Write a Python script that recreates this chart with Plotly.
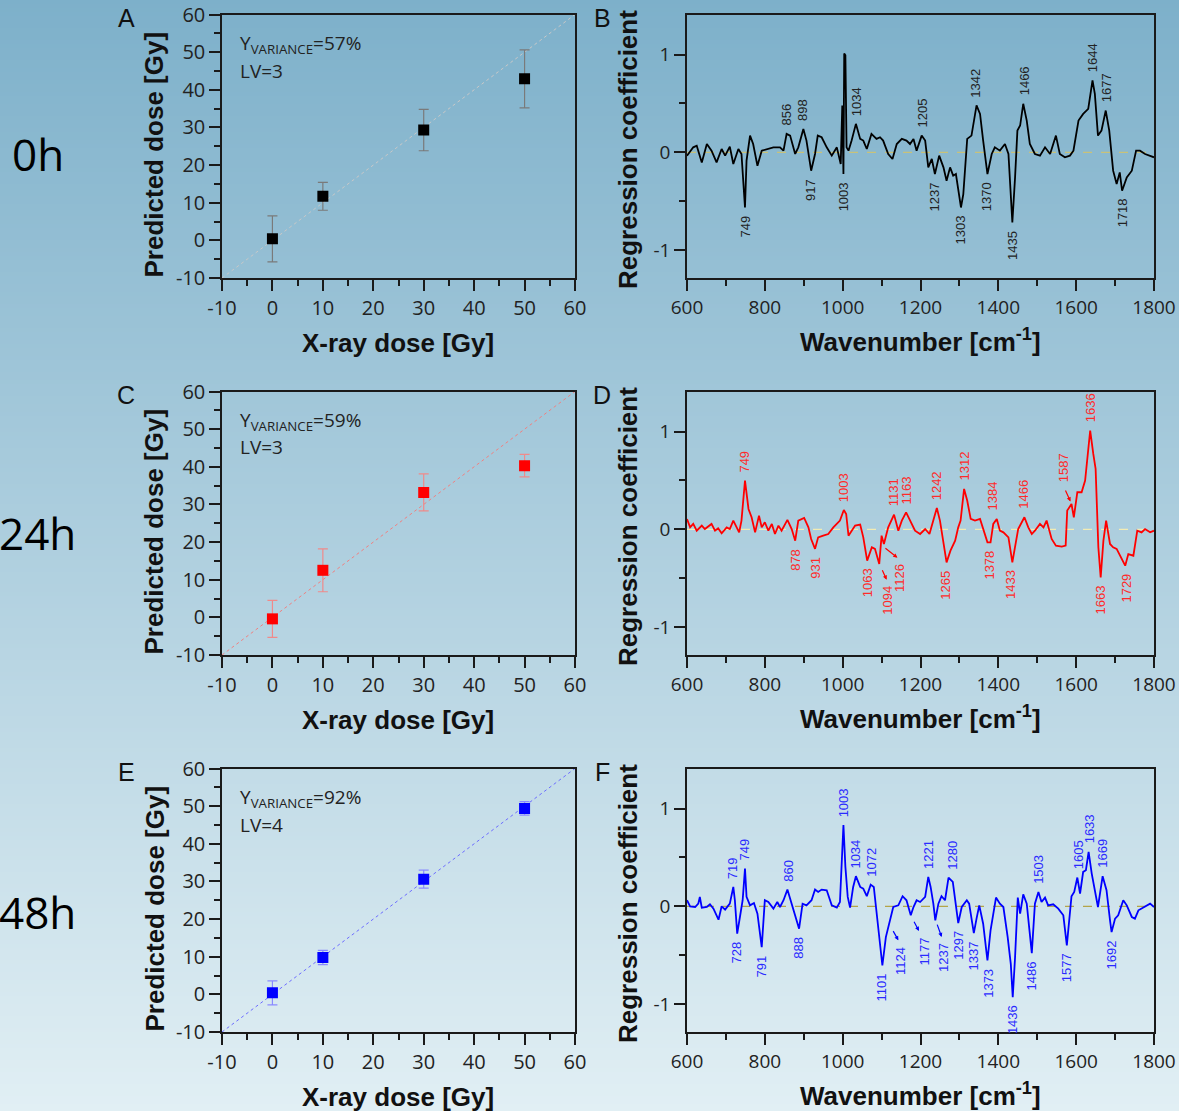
import numpy as np
import plotly.graph_objects as go

# ---------------- data ----------------
dose_x = [0, 10, 30, 50]

pred_0h = [0.4, 11.7, 29.3, 42.9]
err_0h = [6.1, 3.7, 5.5, 7.7]
pred_24h = [-0.4, 12.5, 33.2, 40.3]
err_24h = [4.9, 5.7, 4.9, 3.0]
pred_48h = [0.4, 9.8, 30.6, 49.4]
err_48h = [3.2, 1.9, 2.4, 1.8]

ideal_x = [-10, 60]
ideal_y = [-10, 60]

variance_0h, lv_0h = "57%", 3
variance_24h, lv_24h = "59%", 3
variance_48h, lv_48h = "92%", 4

wn_0h = [600, 616, 625, 638, 651, 663, 676, 689, 698, 710,
         719, 732, 740, 749, 753, 762, 770, 781, 792, 805,
         822, 839, 848, 856, 865, 878, 886, 899, 907, 919,
         929, 936, 946, 959, 972, 985, 991, 995, 999, 1002,
         1004, 1007, 1010, 1015, 1023, 1034, 1045, 1053, 1062, 1074,
         1087, 1096, 1104, 1117, 1128, 1139, 1152, 1164, 1173, 1182,
         1190, 1203, 1212, 1220, 1229, 1237, 1248, 1259, 1267, 1276,
         1284, 1291, 1304, 1310, 1320, 1331, 1344, 1353, 1361, 1372,
         1383, 1391, 1404, 1417, 1426, 1436, 1443, 1449, 1456, 1464,
         1473, 1481, 1494, 1507, 1520, 1533, 1548, 1558, 1571, 1584,
         1593, 1606, 1618, 1631, 1642, 1648, 1656, 1665, 1676, 1685,
         1695, 1704, 1712, 1718, 1730, 1743, 1754, 1764, 1777, 1790,
         1800]
coef_0h = [-0.034, 0.051, 0.068, -0.103, 0.085, 0.017, -0.103, 0.034, -0.034, 0.058,
           -0.12, 0.034, -0.017, -0.564, -0.085, 0.171, 0.085, -0.137, 0.017, 0.034,
           0.051, 0.051, 0.017, 0.188, 0.171, -0.017, 0.051, 0.239, 0.12, -0.188,
           -0.017, 0.171, 0.154, 0.051, -0.034, 0.051, -0.051, -0.12, 0.479, -0.222,
           1.009, 0.991, 0.051, 0.017, 0.12, 0.291, 0.137, 0.12, 0.034, 0.188,
           0.137, 0.154, 0.12, -0.017, -0.068, 0.085, 0.137, 0.12, 0.085, 0.137,
           0.017, 0.171, 0.12, -0.154, -0.068, -0.222, -0.034, -0.154, -0.291, -0.154,
           -0.239, -0.222, -0.564, -0.427, 0.137, 0.171, 0.479, 0.393, 0.12, -0.222,
           -0.017, 0.051, 0.017, 0.085, -0.017, -0.718, -0.256, 0.222, 0.274, 0.496,
           0.325, 0.085, -0.017, -0.034, 0.051, -0.017, 0.171, -0.017, -0.051, -0.034,
           0.017, 0.325, 0.393, 0.444, 0.735, 0.598, 0.171, 0.222, 0.427, 0.222,
           -0.188, -0.325, -0.205, -0.393, -0.256, -0.188, 0.017, 0.017, -0.017, -0.034,
           -0.051]

wn_24h = [600, 608, 616, 625, 638, 646, 663, 672, 680, 689,
          702, 710, 719, 728, 734, 740, 749, 758, 766, 775,
          785, 792, 800, 809, 818, 826, 835, 843, 858, 869,
          878, 886, 901, 912, 919, 929, 937, 950, 963, 976,
          985, 993, 1003, 1009, 1015, 1023, 1032, 1045, 1053, 1063,
          1075, 1083, 1094, 1100, 1106, 1117, 1132, 1143, 1152, 1163,
          1173, 1186, 1199, 1212, 1223, 1233, 1242, 1250, 1259, 1267,
          1277, 1289, 1297, 1303, 1312, 1320, 1329, 1340, 1353, 1361,
          1372, 1380, 1387, 1396, 1404, 1413, 1426, 1436, 1443, 1451,
          1467, 1477, 1486, 1494, 1507, 1516, 1524, 1537, 1548, 1563,
          1573, 1577, 1588, 1594, 1603, 1614, 1623, 1636, 1644, 1650,
          1657, 1663, 1670, 1677, 1687, 1695, 1704, 1713, 1726, 1734,
          1747, 1757, 1768, 1777, 1790, 1800]
coef_24h = [0.106, 0.02, 0.055, -0.014, 0.038, 0.003, 0.055, -0.014, 0.01, -0.041,
            0.02, 0.003, 0.089, 0.02, -0.031, 0.089, 0.498, 0.208, 0.123, -0.031,
            0.14, 0.02, 0.072, -0.014, 0.055, -0.048, 0.038, -0.014, 0.096, 0.003,
            -0.116, 0.089, 0.116, 0.02, -0.099, -0.2, -0.082, -0.065, -0.048, 0.02,
            0.061, 0.089, 0.198, 0.157, -0.065, -0.014, 0.038, 0.048, -0.082, -0.32,
            -0.184, -0.2, -0.355, -0.065, -0.15, 0.02, 0.15, -0.014, 0.089, 0.174,
            0.089, -0.014, -0.048, 0.003, -0.048, 0.089, 0.218, 0.089, -0.15, -0.338,
            -0.218, -0.116, 0.02, 0.089, 0.413, 0.294, 0.106, 0.089, 0.106, 0.003,
            -0.133, -0.133, 0.055, 0.106, -0.014, -0.031, -0.082, -0.338, -0.184, 0.003,
            0.123, 0.02, -0.048, -0.014, 0.055, 0.02, 0.089, -0.099, -0.167, -0.177,
            -0.167, 0.191, 0.259, 0.123, 0.379, 0.379, 0.498, 1.01, 0.771, 0.618,
            -0.184, -0.491, -0.116, 0.089, -0.15, -0.184, -0.2, -0.27, -0.372, -0.253,
            -0.27, -0.014, -0.031, 0.003, -0.031, -0.014]

wn_48h = [600, 608, 621, 629, 633, 638, 651, 659, 668, 681,
          689, 698, 710, 719, 723, 729, 736, 743, 749, 753,
          762, 772, 781, 792, 800, 809, 822, 832, 839, 848,
          858, 869, 878, 888, 897, 907, 920, 929, 937, 946,
          959, 972, 985, 993, 1002, 1007, 1013, 1019, 1027, 1034,
          1045, 1053, 1062, 1072, 1080, 1087, 1096, 1102, 1111, 1120,
          1130, 1143, 1154, 1164, 1175, 1182, 1190, 1199, 1212, 1220,
          1226, 1233, 1238, 1246, 1254, 1263, 1272, 1283, 1289, 1297,
          1306, 1319, 1325, 1337, 1344, 1351, 1361, 1372, 1380, 1394,
          1404, 1413, 1424, 1432, 1437, 1443, 1450, 1456, 1464, 1473,
          1480, 1486, 1494, 1503, 1511, 1520, 1528, 1541, 1554, 1567,
          1576, 1582, 1588, 1595, 1603, 1610, 1618, 1625, 1632, 1640,
          1648, 1656, 1668, 1678, 1687, 1691, 1700, 1708, 1721, 1730,
          1743, 1751, 1760, 1773, 1781, 1790, 1800]
coef_48h = [0.062, 0.0, -0.007, 0.027, 0.096, -0.014, -0.007, 0.021, -0.024, -0.137,
            0.0, -0.034, 0.027, 0.198, 0.062, -0.28, -0.109, 0.062, 0.386, 0.096,
            0.01, 0.034, -0.075, -0.417, 0.062, 0.044, -0.024, 0.044, -0.007, 0.062,
            0.171, 0.027, -0.092, -0.229, 0.027, 0.01, 0.062, 0.171, 0.147, 0.171,
            0.164, 0.01, -0.014, 0.044, 0.831, 0.403, 0.096, -0.014, 0.198, 0.308,
            0.198, 0.181, 0.103, 0.222, 0.198, -0.041, -0.383, -0.605, -0.315, -0.161,
            -0.007, 0.01, 0.103, 0.062, -0.092, -0.007, 0.062, 0.044, 0.096, 0.301,
            0.198, 0.027, -0.144, 0.027, 0.103, 0.062, 0.294, 0.25, 0.062, -0.171,
            -0.007, 0.062, 0.027, -0.274, -0.126, 0.01, -0.178, -0.554, -0.246, 0.089,
            0.027, -0.007, -0.315, -0.588, -0.93, -0.52, 0.089, -0.075, 0.123, 0.027,
            -0.246, -0.479, 0.027, 0.147, 0.044, 0.089, 0.01, 0.021, -0.024, -0.092,
            -0.4, -0.109, 0.103, 0.147, 0.294, 0.131, 0.352, 0.369, 0.557, 0.335,
            0.164, -0.007, 0.308, 0.164, -0.144, -0.263, -0.126, -0.092, 0.062, 0.01,
            -0.109, -0.126, -0.041, -0.014, 0.01, 0.027, -0.007]

peaks_up_0h = [856, 898, 1034, 1205, 1342, 1466, 1644, 1677]
peaks_down_0h = [749, 917, 1003, 1237, 1303, 1370, 1435, 1718]
peaks_up_24h = [749, 1003, 1131, 1163, 1242, 1312, 1384, 1466, 1636]
peaks_down_24h = [878, 931, 1063, 1265, 1378, 1433, 1663, 1729]
peaks_up_48h = [719, 749, 860, 1003, 1034, 1072, 1221, 1280, 1503, 1605, 1633, 1669]
peaks_down_48h = [728, 791, 888, 1101, 1297, 1337, 1373, 1436, 1486, 1577, 1692]
# labels drawn with arrows: (label, wavenumber on the curve, side)
arrow_peaks_24h = [(1094, 1094, "down"), (1126, 1106, "down"), (1587, 1588, "up")]
arrow_peaks_48h = [(1124, 1120, "down"), (1177, 1175, "down"), (1237, 1238, "down")]

dose_ticks = [-10, 0, 10, 20, 30, 40, 50, 60]
dose_minor = [-5, 5, 15, 25, 35, 45, 55]
wn_ticks = [600, 800, 1000, 1200, 1400, 1600, 1800]
wn_minor = [700, 900, 1100, 1300, 1500, 1700]
coef_ticks = [-1, 0, 1]
coef_minor = [-0.5, 0.5]
row_labels = ["0h", "24h", "48h"]
panel_letters = [("A", "B"), ("C", "D"), ("E", "F")]

# ---------------- layout helpers ----------------
W, H = 1179, 1111
ROW_TOP = [14.5, 391.5, 768.5]
ROW_H = 263.5
LEFT_DOM = [222 / W, 575 / W]
RIGHT_DOM = [687 / W, 1154 / W]
DARK = "#1a1a1a"
TICKFONT = "Open Sans, Liberation Sans, Arial"
BOLDFONT = "Liberation Sans, Arial"


def px(x):
    return x / W


def py(y):
    return 1 - y / H


fig = go.Figure()

# background gradient
top_c = np.array([125, 176, 202])
bot_c = np.array([225, 239, 244])
step = 4
for y0 in range(0, H, step):
    t = (y0 + step / 2) / H
    c = (top_c * (1 - t) + bot_c * t).round().astype(int)
    fig.add_shape(type="rect", xref="paper", yref="paper", x0=0, x1=1,
                  y0=max(py(y0 + step + 1), 0), y1=py(y0), layer="below",
                  line=dict(width=0), fillcolor=f"rgb({c[0]},{c[1]},{c[2]})")

axis_common = dict(showline=True, linecolor=DARK, linewidth=1.5, mirror=True,
                   ticks="outside", ticklen=11, tickwidth=1.5, tickcolor=DARK,
                   showgrid=False, zeroline=False, automargin=False,
                   tickfont=dict(family=TICKFONT, size=20, color="#222"))

dose_sets = [(pred_0h, err_0h, "#000000", "#7a7a7a", "#c8c8c8", variance_0h, lv_0h),
             (pred_24h, err_24h, "#ff0000", "#f08a8a", "#f08080", variance_24h, lv_24h),
             (pred_48h, err_48h, "#0000ff", "#8a8aff", "#6c6cff", variance_48h, lv_48h)]
spec_sets = [(wn_0h, coef_0h, "#000000", "#222222", "#c8c27a", peaks_up_0h, peaks_down_0h, []),
             (wn_24h, coef_24h, "#ff0000", "#ff2a2a", "#f2ecb4", peaks_up_24h, peaks_down_24h, arrow_peaks_24h),
             (wn_48h, coef_48h, "#0000ff", "#2a2aff", "#b3a548", peaks_up_48h, peaks_down_48h, arrow_peaks_48h)]

arrow_geom = {
    1094: dict(dx=8, gap=20, tail=(2.4, 4.7), head=(7.4, 15.7)),
    1126: dict(dx=16, gap=18, tail=(0.0, 3.0), head=(13.5, 13.7)),
    1587: dict(dx=-7.7, gap=20, tail=(-6.7, -15.0), head=(-1.0, -2.6)),
    1124: dict(dx=10.6, gap=23, tail=(3.0, 7.6), head=(9.0, 18.3)),
    1177: dict(dx=13.5, gap=20, tail=(2.5, 5.0), head=(8.2, 15.7)),
    1237: dict(dx=8, gap=20.7, tail=(1.4, 2.7), head=(6.4, 16.7)),
}


def paper_text(text, x, y, font, angle=0, xanchor="center", yanchor="middle"):
    fig.add_annotation(x=px(x), y=py(y), xref="paper", yref="paper", text=text,
                       textangle=angle, showarrow=False, xanchor=xanchor,
                       yanchor=yanchor, font=font)


for r in range(3):
    top = ROW_TOP[r]
    bot = top + ROW_H
    ydom = [py(bot), py(top)]
    ia = 2 * r + 1
    ib = 2 * r + 2
    xa = "x" if ia == 1 else f"x{ia}"
    ya = "y" if ia == 1 else f"y{ia}"
    xb, yb = f"x{ib}", f"y{ib}"

    pred, err, mcol, ecol, lcol, var, lv = dose_sets[r]
    fig.add_trace(go.Scatter(x=ideal_x, y=ideal_y, mode="lines", xaxis=xa, yaxis=ya,
                             line=dict(color=lcol, width=1, dash="dot"), showlegend=False))
    fig.add_trace(go.Scatter(x=dose_x, y=pred, mode="markers", xaxis=xa, yaxis=ya,
                             marker=dict(symbol="square", size=11, color=mcol),
                             error_y=dict(type="data", array=err, color=ecol, thickness=1.2, width=5),
                             showlegend=False))

    wn, coef, scol, tcol, zcol, ups, downs, arrows = spec_sets[r]
    fig.add_trace(go.Scatter(x=[600, 1800], y=[0, 0], mode="lines", xaxis=xb, yaxis=yb,
                             line=dict(color=zcol, width=1.2, dash="dash"), showlegend=False))
    fig.add_trace(go.Scatter(x=wn, y=coef, mode="lines", xaxis=xb, yaxis=yb,
                             line=dict(color=scol, width=1.8), showlegend=False))

    fig.update_layout(**{
        ("xaxis" if ia == 1 else f"xaxis{ia}"): dict(
            axis_common, domain=LEFT_DOM, range=[-10, 60], anchor=ya,
            tickmode="array", tickvals=dose_ticks, ticktext=[str(v) for v in dose_ticks],
            minor=dict(ticks="outside", ticklen=6, tickwidth=1.5, tickcolor=DARK, tickvals=dose_minor)),
        ("yaxis" if ia == 1 else f"yaxis{ia}"): dict(
            axis_common, domain=ydom, range=[-10, 60], anchor=xa,
            tickmode="array", tickvals=dose_ticks, ticktext=[str(v) for v in dose_ticks],
            minor=dict(ticks="outside", ticklen=6, tickwidth=1.5, tickcolor=DARK, tickvals=dose_minor)),
        f"xaxis{ib}": dict(
            axis_common, domain=RIGHT_DOM, range=[600, 1800], anchor=yb,
            tickmode="array", tickvals=wn_ticks, ticktext=[str(v) for v in wn_ticks],
            tickfont=dict(family=TICKFONT, size=19, color="#222"),
            minor=dict(ticks="outside", ticklen=6, tickwidth=1.5, tickcolor=DARK, tickvals=wn_minor)),
        f"yaxis{ib}": dict(
            axis_common, domain=ydom, range=[-1.285, 1.409], anchor=xb,
            tickmode="array", tickvals=coef_ticks, ticktext=[str(v) for v in coef_ticks],
            tickfont=dict(family=TICKFONT, size=19, color="#222"),
            minor=dict(ticks="outside", ticklen=6, tickwidth=1.5, tickcolor=DARK, tickvals=coef_minor)),
    })

    title_font = dict(family=BOLDFONT, size=26, color="#111", weight="bold")
    paper_text("Predicted dose [Gy]", 154, top + 140, title_font, angle=-90)
    paper_text("X-ray dose [Gy]", 398, top + 328.5, title_font)
    paper_text("Regression coefficient", 628, top + 135.5, title_font, angle=-90)
    paper_text("Wavenumber [cm<sup>-1</sup>]", 920, top + 326, title_font)

    paper_text(row_labels[r], 38, top + 140 + r * 1.5,
               dict(family="Open Sans, Noto Sans", size=44, color="#000"))
    la, lb = panel_letters[r]
    letter_font = dict(family=BOLDFONT, size=25, color="#111")
    paper_text(la, 126, top + 3, letter_font)
    paper_text(lb, 602, top + 3, letter_font)

    var_font = dict(family=TICKFONT, size=19, color="#222")
    paper_text(f"Y<sub>VARIANCE</sub>={var}", 238, top + 29.5, var_font, xanchor="left")
    paper_text(f"LV={lv}", 238, top + 56, var_font, xanchor="left")

    # peak labels
    wn_a = np.array(wn, dtype=float)
    cf_a = np.array(coef, dtype=float)
    lab_font = dict(family="Liberation Sans, Arial", size=13, color=tcol)
    for p in ups + downs:
        up = p in ups
        m = np.abs(wn_a - p) <= 12
        yv = cf_a[m].max() if up else cf_a[m].min()
        fig.add_annotation(x=p, y=yv, xref=xb, yref=yb, text=str(p), textangle=-90,
                           showarrow=False, xanchor="center",
                           yanchor="bottom" if up else "top",
                           yshift=6 if up else -6, font=lab_font)
    for lab, wpt, side in arrows:
        g = arrow_geom[lab]
        yv = float(np.interp(wpt, wn_a, cf_a))
        up = side == "up"
        fig.add_annotation(x=wpt, y=yv, xref=xb, yref=yb, text=str(lab), textangle=-90,
                           showarrow=False, xanchor="center",
                           yanchor="bottom" if up else "top",
                           xshift=g["dx"], yshift=g["gap"] if up else -g["gap"], font=lab_font)
        hx, hy = g["head"]
        tx, ty = g["tail"]
        fig.add_annotation(x=wpt, y=yv, xref=xb, yref=yb, text="", showarrow=True,
                           ax=tx - hx, ay=ty - hy, xshift=hx, yshift=-hy,
                           arrowhead=2, arrowsize=0.7, arrowwidth=1.2, arrowcolor=scol)

fig.update_layout(width=W, height=H,
                  margin=dict(l=0, r=0, t=0, b=0, pad=0, autoexpand=False),
                  paper_bgcolor="rgb(225,239,244)", plot_bgcolor="rgba(0,0,0,0)",
                  showlegend=False)

fig.write_html("out.html")
